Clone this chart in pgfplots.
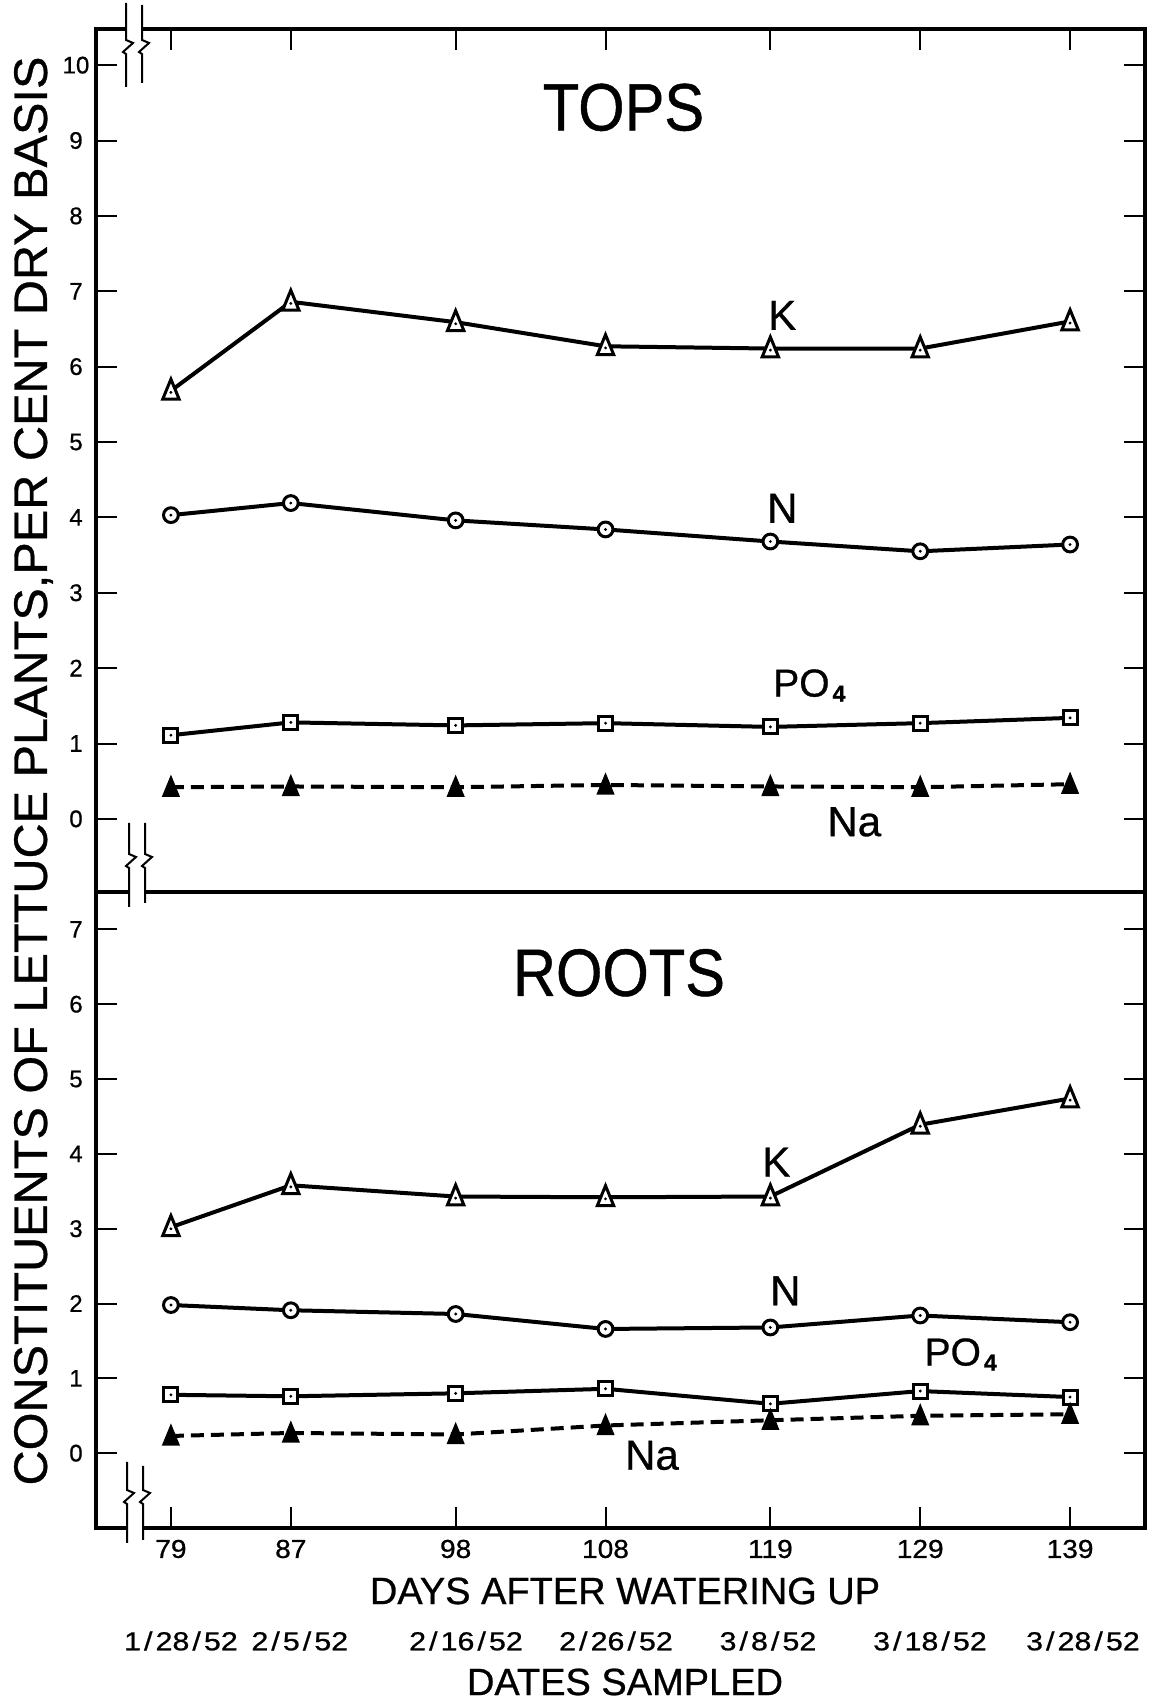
\documentclass[border=0pt]{standalone}
\usepackage{pgfplots}
\pgfplotsset{compat=1.18}
\usepackage{fontspec}
\setmainfont{Liberation Sans}[UprightFeatures={FakeBold=0.7}, BoldFeatures={FakeBold=1.2}]

% open triangle with a centre dot (K)
\pgfdeclareplotmark{tridot}{%
  \pgfpathmoveto{\pgfqpoint{0pt}{5.8pt}}%
  \pgfpathlineto{\pgfqpoint{-4.1pt}{-4.2pt}}%
  \pgfpathlineto{\pgfqpoint{4.1pt}{-4.2pt}}%
  \pgfpathclose
  \pgfusepathqfillstroke
  \pgfscope\pgfsetfillcolor{black}%
  \pgfpathcircle{\pgfqpoint{0pt}{-0.8pt}}{0.8pt}\pgfusepathqfill
  \endpgfscope}
% open circle with a centre dot (N)
\pgfdeclareplotmark{circdot}{%
  \pgfpathcircle{\pgfpointorigin}{3.7pt}\pgfusepathqfillstroke
  \pgfscope\pgfsetfillcolor{black}%
  \pgfpathcircle{\pgfpointorigin}{0.8pt}\pgfusepathqfill
  \endpgfscope}
% open square with a centre dot (PO4)
\pgfdeclareplotmark{sqdot}{%
  \pgfpathrectangle{\pgfqpoint{-3.5pt}{-3.5pt}}{\pgfqpoint{7pt}{7pt}}\pgfusepathqfillstroke
  \pgfscope\pgfsetfillcolor{black}%
  \pgfpathcircle{\pgfpointorigin}{0.8pt}\pgfusepathqfill
  \endpgfscope}
% solid triangle (Na)
\pgfdeclareplotmark{trisolid}{%
  \pgfpathmoveto{\pgfqpoint{0pt}{5.5pt}}%
  \pgfpathlineto{\pgfqpoint{-4.1pt}{-4.5pt}}%
  \pgfpathlineto{\pgfqpoint{4.1pt}{-4.5pt}}%
  \pgfpathclose\pgfusepathqfillstroke}

\pgfplotsset{
  panel/.style={
    scale only axis, width=524.5pt, xmin=74, xmax=144,
    axis line style={line width=1.6pt},
    every tick/.style={black, line width=1pt},
    major tick length=10.5pt, tick align=inside,
    xtick={79,87,98,108,119,129,139},
    ytick pos=both, yticklabel pos=left,
    yticklabel style={anchor=center, xshift=-10pt, font=\fontsize{12}{12}\selectfont},
    /pgf/number format/assume math mode=true,
    clip=false,
  },
  Kline/.style={black, line width=2pt, mark=tridot, mark options={fill=white, line width=1.5pt, solid}},
  Nline/.style={black, line width=2pt, mark=circdot, mark options={fill=white, line width=1.5pt, solid}},
  Pline/.style={black, line width=2pt, mark=sqdot, mark options={fill=white, line width=1.5pt, solid}},
  Naline/.style={black, line width=2pt, dash pattern=on 6.5pt off 3.5pt, mark=trisolid, mark options={fill=black, line width=0.6pt, solid}},
}
\tikzset{
  big/.style={font=\fontsize{33.5}{33.5}\selectfont, xscale=0.89},
  lab/.style={font=\fontsize{21}{21}\selectfont},
  datel/.style={font=\fontsize{13}{13}\selectfont, xscale=1.17},
}
\newcommand\dsl{\kern1.3pt/\kern1.3pt}
\newcommand\POfour{{\fontsize{19.5}{19.5}\selectfont PO\kern1.5pt\raisebox{-2.5pt}{\fontsize{11.5}{11.5}\selectfont\bfseries 4}}}
% broken-axis symbol: vertical stroke with a small zigzag
\newcommand\breakline[4]{%
  \draw[line width=1pt, line join=miter] (#1,#2) -- (#1,#4+3.5) -- (#1+3.5,#4+2) -- (#1-1.5,#4-2.5) -- (#1,#4-3.5) -- (#1,#3);}

\begin{document}
\begin{tikzpicture}[x=1pt,y=1pt]
\useasboundingbox (0,0) rectangle (576.5,850);

% ---------------- TOPS ----------------
\begin{axis}[panel, at={(48pt,404pt)}, anchor=south west, height=431.5pt,
  ymin=-0.97, ymax=10.48, ytick={0,...,10},
  xtick pos=right, xticklabels={}]
\addplot[Kline] coordinates {(79,5.68) (87,6.86) (98,6.59) (108,6.27) (119,6.24) (129,6.24) (139,6.60)};
\addplot[Nline] coordinates {(79,4.03) (87,4.19) (98,3.96) (108,3.84) (119,3.68) (129,3.55) (139,3.64)};
\addplot[Pline] coordinates {(79,1.11) (87,1.28) (98,1.24) (108,1.27) (119,1.22) (129,1.27) (139,1.34)};
\addplot[Naline] coordinates {(79,0.42) (87,0.43) (98,0.42) (108,0.45) (119,0.43) (129,0.42) (139,0.46)};
\node[big] at (axis cs:109.2,9.44) {TOPS};
\node[lab] at (axis cs:119.8,6.68) {K};
\node[lab] at (axis cs:119.8,4.12) {N};
\node at (axis cs:121.6,1.77) {\POfour};
\node[lab] at (axis cs:124.6,-0.04) {Na};
\end{axis}

% ---------------- ROOTS ----------------
\begin{axis}[panel, at={(48pt,86pt)}, anchor=south west, height=318pt,
  ymin=-1.0, ymax=7.5, ytick={0,...,7},
  xtick pos=left,
  xticklabel style={anchor=center, yshift=-10.5pt, font=\fontsize{13}{13}\selectfont, xscale=1.08}]
\addplot[Kline] coordinates {(79,3.02) (87,3.58) (98,3.43) (108,3.42) (119,3.43) (129,4.39) (139,4.74)};
\addplot[Nline] coordinates {(79,1.98) (87,1.91) (98,1.86) (108,1.66) (119,1.68) (129,1.84) (139,1.75)};
\addplot[Pline] coordinates {(79,0.78) (87,0.76) (98,0.80) (108,0.86) (119,0.66) (129,0.83) (139,0.75)};
\addplot[Naline] coordinates {(79,0.23) (87,0.27) (98,0.25) (108,0.37) (119,0.44) (129,0.50) (139,0.52)};
\node[big] at (axis cs:108.9,6.42) {ROOTS};
\node[lab] at (axis cs:119.4,3.89) {K};
\node[lab] at (axis cs:120.0,2.17) {N};
\node at (axis cs:131.7,1.32) {\POfour};
\node[lab] at (axis cs:111.1,-0.03) {Na};
% sampling dates under the day numbers
\node[datel] at (axis cs:79.67,-2.51) {1\dsl28\dsl52};
\node[datel] at (axis cs:87.6,-2.51) {2\dsl5\dsl52};
\node[datel] at (axis cs:98.69,-2.51) {2\dsl16\dsl52};
\node[datel] at (axis cs:108.7,-2.51) {2\dsl26\dsl52};
\node[datel] at (axis cs:118.84,-2.51) {3\dsl8\dsl52};
\node[datel] at (axis cs:129.65,-2.51) {3\dsl18\dsl52};
\node[datel] at (axis cs:139.86,-2.51) {3\dsl28\dsl52};
\end{axis}

% axis titles
\node[font=\fontsize{19}{19}\selectfont] at (312.5,54.5) {DAYS AFTER WATERING UP};
\node[font=\fontsize{19}{19}\selectfont] at (312.5,9) {DATES SAMPLED};
\node[rotate=90, xscale=1.035, font=\fontsize{23.5}{23.5}\selectfont] at (16.75,464.5)
  {CONSTITUENTS OF LETTUCE PLANTS,PER CENT DRY BASIS};

% axis-break symbols
\fill[white] (63.6,834.3) rectangle (70.4,836.7);
\breakline{63}{848.5}{806.5}{826.5}
\breakline{71}{847.5}{808.5}{826.5}
\fill[white] (65.1,402.8) rectangle (71.9,405.2);
\breakline{64.5}{438.5}{396.5}{419.5}
\breakline{72.5}{438.5}{398.5}{419.5}
\fill[white] (64.1,84.8) rectangle (70.9,87.2);
\breakline{63.5}{119}{78.5}{101.5}
\breakline{71.5}{117}{80}{101.5}
\end{tikzpicture}
\end{document}
